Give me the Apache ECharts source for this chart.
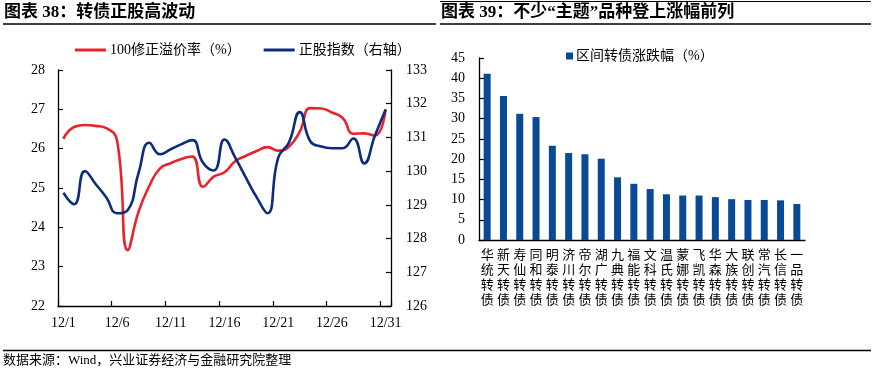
<!DOCTYPE html>
<html>
<head>
<meta charset="utf-8">
<script src="https://cdn.jsdelivr.net/npm/echarts@6/dist/echarts.min.js"></script>
<style>
html,body{margin:0;padding:0;background:#fff;}
#c{width:875px;height:372px;}
</style>
</head>
<body>
<div id="c"></div>
<script>
// ---- Left chart data (December, daily) ----
const dates = ['12/1','12/2','12/3','12/4','12/5','12/6','12/7','12/8','12/9','12/10',
  '12/11','12/12','12/13','12/14','12/15','12/16','12/17','12/18','12/19','12/20',
  '12/21','12/22','12/23','12/24','12/25','12/26','12/27','12/28','12/29','12/30','12/31'];
const premiumRate = [26.25, 26.55, 26.60, 26.58, 26.52, 26.20, 23.42, 24.40, 25.05, 25.50,
  25.63, 25.74, 25.80, 25.03, 25.29, 25.40, 25.68, 25.82, 25.94, 26.04,
  25.95, 26.05, 26.43, 27.03, 27.02, 26.92, 26.78, 26.38, 26.39, 26.33, 27.00];
const stockIndex = [129.36, 129.02, 130.00, 129.62, 129.22, 128.75, 128.85, 129.95, 130.84, 130.50,
  130.65, 130.80, 130.92, 130.25, 130.02, 130.94, 130.40, 129.80, 129.22, 128.75,
  130.40, 130.85, 131.75, 130.88, 130.73, 130.68, 130.68, 130.97, 130.23, 131.05, 131.83];

// ---- Right chart data ----
const bondNames = ['华统转债','新天转债','寿仙转债','同和转债','明泰转债','济川转债','帝尔转债',
  '湖广转债','九典转债','福能转债','文科转债','温氏转债','蒙娜转债','飞凯转债','华森转债',
  '大族转债','联创转债','常汽转债','长信转债','一品转债'];
const bondChange = [41.1, 35.6, 31.2, 30.4, 23.3, 21.5, 21.2, 20.1, 15.5, 13.9,
  12.6, 11.3, 11.0, 11.0, 10.6, 10.1, 9.9, 9.9, 9.8, 8.9];

const FONT = '"Liberation Serif", "Noto Sans CJK SC", serif';
const AXIS_COLOR = '#000';
const RED = '#E8232A';
const NAVY = '#0E2C7E';
const BAR = '#0A4A95';

const chart = echarts.init(document.getElementById('c'), null, {renderer: 'canvas'});

const axisLineStyle = {show: true, lineStyle: {color: AXIS_COLOR, width: 1.3}};
const tickStyle = {show: true, inside: true, length: 5, lineStyle: {color: AXIS_COLOR, width: 1.2}};
const labelStyle = {color: '#000', fontFamily: FONT, fontSize: 14};

const option = {
  animation: false,
  backgroundColor: '#fff',
  textStyle: {fontFamily: FONT},
  grid: [
    {left: 58, top: 70, width: 333, height: 236, containLabel: false},
    {left: 479, top: 58, width: 326, height: 182, containLabel: false}
  ],
  legend: [
    {
      left: 70, top: 38, itemWidth: 31, itemHeight: 3, itemGap: 23,
      icon: 'rect',
      textStyle: {color: '#000', fontFamily: FONT, fontSize: 14, padding: [0, 0, 0, -1]},
      data: ['100修正溢价率（%）', '正股指数（右轴）']
    },
    {
      left: 561, top: 44, itemWidth: 7, itemHeight: 7, itemGap: 10,
      icon: 'rect',
      textStyle: {color: '#000', fontFamily: FONT, fontSize: 14, padding: [0, 0, 0, -2]},
      data: ['区间转债涨跌幅（%）']
    }
  ],
  xAxis: [
    {
      type: 'category', gridIndex: 0, data: dates, boundaryGap: true,
      axisLine: axisLineStyle,
      axisTick: Object.assign({}, tickStyle, {interval: 4}),
      axisLabel: Object.assign({}, labelStyle, {interval: 4, margin: 10}),
      splitLine: {show: false}
    },
    {
      type: 'category', gridIndex: 1, data: bondNames,
      axisLine: axisLineStyle,
      axisTick: {show: false},
      axisLabel: {
        interval: 0, margin: 7, color: '#000', fontFamily: '"Noto Sans CJK SC", sans-serif',
        fontSize: 13, lineHeight: 15,
        formatter: v => v.split('').join('\n')
      },
      splitLine: {show: false}
    }
  ],
  yAxis: [
    {
      type: 'value', gridIndex: 0, min: 22, max: 28, interval: 1, position: 'left',
      axisLine: axisLineStyle, axisTick: tickStyle,
      axisLabel: Object.assign({}, labelStyle, {margin: 13}),
      splitLine: {show: false}
    },
    {
      type: 'value', gridIndex: 0, min: 126, max: 133, interval: 1, position: 'right',
      axisLine: axisLineStyle, axisTick: tickStyle,
      axisLabel: Object.assign({}, labelStyle, {margin: 15}),
      splitLine: {show: false}
    },
    {
      type: 'value', gridIndex: 1, min: 0, max: 45, interval: 5,
      axisLine: axisLineStyle, axisTick: tickStyle,
      axisLabel: Object.assign({}, labelStyle, {margin: 14}),
      splitLine: {show: false}
    }
  ],
  series: [
    {
      name: '100修正溢价率（%）', type: 'line', xAxisIndex: 0, yAxisIndex: 0,
      data: premiumRate, smooth: true, symbol: 'none',
      lineStyle: {color: RED, width: 2.6}, itemStyle: {color: RED}
    },
    {
      name: '正股指数（右轴）', type: 'line', xAxisIndex: 0, yAxisIndex: 1,
      data: stockIndex, smooth: true, symbol: 'none',
      lineStyle: {color: NAVY, width: 2.6}, itemStyle: {color: NAVY}
    },
    {
      name: '区间转债涨跌幅（%）', type: 'bar', xAxisIndex: 1, yAxisIndex: 2,
      data: bondChange, barWidth: 7, itemStyle: {color: BAR}
    }
  ],
  graphic: [
    {type: 'text', left: 4, top: 4, style: {text: '图表 38：转债正股高波动', font: 'bold 17px ' + FONT, fill: '#000'}},
    {type: 'text', left: 441, top: 4, style: {text: '图表 39：不少“主题”品种登上涨幅前列', font: 'bold 17px ' + FONT, fill: '#000'}},
    {type: 'line', shape: {x1: 3, y1: 24, x2: 436, y2: 24}, style: {stroke: '#000', lineWidth: 1.5}},
    {type: 'line', shape: {x1: 440, y1: 24, x2: 871, y2: 24}, style: {stroke: '#000', lineWidth: 1.5}},
    {type: 'line', shape: {x1: 440, y1: 1.5, x2: 871, y2: 1.5}, style: {stroke: '#000', lineWidth: 1}},
    {type: 'line', shape: {x1: 3, y1: 350.5, x2: 871, y2: 350.5}, style: {stroke: '#000', lineWidth: 1.3}},
    {type: 'text', left: 3, top: 354, style: {text: '数据来源：Wind，兴业证券经济与金融研究院整理', font: '13px ' + FONT, fill: '#000'}}
  ]
};
chart.setOption(option);
</script>
</body>
</html>
